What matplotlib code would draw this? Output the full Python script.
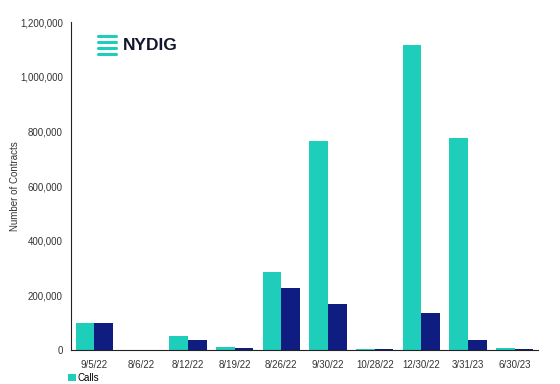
import numpy as np
import matplotlib
matplotlib.use("Agg")
import matplotlib.pyplot as plt
from matplotlib.ticker import FuncFormatter

dates = ["9/5/22", "8/6/22", "8/12/22", "8/19/22", "8/26/22",
         "9/30/22", "10/28/22", "12/30/22", "3/31/23", "6/30/23"]
calls = [99000, 0, 51000, 11000, 285000, 765000, 5000, 1116000, 775000, 9000]
puts = [100000, 0, 37000, 7000, 227000, 168000, 2000, 135000, 38000, 2000]

teal = "#1ECDBA"
navy = "#0F1C80"

plt.rcParams["font.family"] = ["Liberation Sans", "DejaVu Sans"]

fig = plt.figure(figsize=(5.6, 3.84), dpi=100)
ax = fig.add_axes([0.127, 0.0885, 0.834, 0.854])

x = np.arange(len(dates))
w = 0.4
ax.bar(x - w / 2, calls, w, color=teal, label="Calls")
ax.bar(x + w / 2, puts, w, color=navy, label="Puts")

ax.set_xlim(-0.5, 9.5)
ax.set_ylim(0, 1200000)
ax.set_yticks(np.arange(0, 1200001, 200000))
ax.yaxis.set_major_formatter(FuncFormatter(lambda v, p: f"{int(v):,}"))
ax.set_xticks(x)
ax.set_xticklabels(dates)
ax.tick_params(axis="both", length=0, labelsize=7, colors="#333333", pad=7)
ax.tick_params(axis="y", pad=6)
for s in ["top", "right"]:
    ax.spines[s].set_visible(False)
ax.spines["left"].set_color("#222222")
ax.spines["bottom"].set_color("#222222")
ax.spines["left"].set_linewidth(0.8)
ax.spines["bottom"].set_linewidth(0.8)
ax.set_ylabel("Number of Contracts", fontsize=7, color="#333333")
ax.yaxis.set_label_coords(-0.11, 0.5)

# NYDIG logo
for yy in [0.905, 0.89, 0.875, 0.86]:
    fig.add_artist(plt.Line2D([0.175, 0.208], [yy, yy], color=teal, lw=2.2,
                              solid_capstyle="round"))
fig.text(0.219, 0.882, "NYDIG", fontsize=12.5, fontweight="bold",
         color="#14152E", va="center", ha="left")

ax.legend(handles=[ax.patches[0]], labels=["Calls"], loc="center left",
          bbox_to_anchor=(-0.007, -0.085), frameon=False, fontsize=7,
          handlelength=0.8, handleheight=0.8, handletextpad=0.2,
          borderaxespad=0, borderpad=0)

fig.savefig("out.png", dpi=100)
